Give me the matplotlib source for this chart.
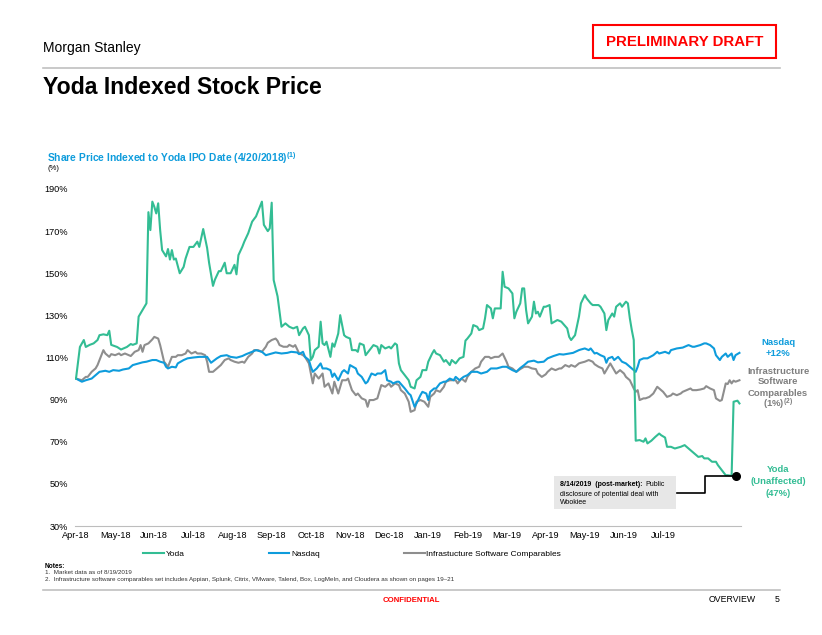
import numpy as np
import matplotlib
matplotlib.use('Agg')
import matplotlib.pyplot as plt
from matplotlib.lines import Line2D
from matplotlib.patches import Rectangle

W, H = 822, 635

plt.rcParams['font.family'] = ['Liberation Sans', 'DejaVu Sans']
plt.rcParams['mathtext.fontset'] = 'custom'
plt.rcParams['mathtext.rm'] = 'Liberation Sans'
plt.rcParams['mathtext.bf'] = 'Liberation Sans:bold'

GREEN = '#33BD94'
BLUE = '#0E9CDC'
GREY = '#8E8E8E'
RED = '#FF0000'
RULE = '#BDBDBD'

# trading sessions since the IPO (4/20/2018), indexed price in %
yoda = [(0, 100), (2, 115), (4, 118.3), (5, 115), (7, 116), (9, 116.7), (11, 118.3), (12, 120.6), (14, 121),
        (16, 120.6), (17, 122.7), (18, 116), (21, 115), (23, 113.8), (26, 115), (28, 116.4), (29, 116),
        (31, 116.7), (32, 129.4), (34, 132.5), (36, 135.7), (37, 179), (38, 170.5), (39, 184), (40, 181.6),
        (41, 178.4), (42, 183.2), (43, 170.5), (44, 161), (46, 158), (47, 161.5), (48, 156.5), (49, 161),
        (50, 156.5), (51, 157), (53, 150), (55, 153), (56, 157), (58, 162.5), (60, 162.5), (62, 165),
        (63, 162.5), (65, 171), (67, 162), (68, 155), (70, 144), (71, 147), (73, 151), (74, 151), (76, 155),
        (77, 150), (79, 150), (81, 154), (82, 149.5), (83, 158.6), (85, 162.6), (86, 165), (88, 169),
        (90, 174.5), (92, 177), (95, 184), (96, 173), (98, 170), (99, 171.3), (100, 183.5), (101, 146.8),
        (103, 139), (105, 124.6), (107, 126.2), (109, 124.6), (111, 123.8), (113, 124.6), (114, 120.6),
        (116, 123.8), (117, 124.6), (119, 120.6), (120, 108.8), (121, 110.3), (122, 113.5), (124, 115.1),
        (125, 127), (126, 116.7), (127, 115.9), (128, 117.5), (130, 110.3), (131, 116.7), (132, 115.1),
        (134, 121.4), (135, 130.1), (137, 120.6), (138, 119.8), (140, 119), (141, 113.5), (143, 113.5),
        (144, 112.7), (145, 116.7), (147, 115.9), (148, 111.1), (150, 113.5), (152, 115.9), (154, 115.1),
        (155, 111.9), (156, 115.9), (158, 114.3), (160, 115.1), (161, 114.3), (163, 116.7), (164, 116),
        (165, 107.2), (166, 104), (168, 101.6), (170, 99.2), (171, 96.1), (173, 95.3), (174, 99.2),
        (176, 100.8), (177, 104), (179, 104), (180, 108), (182, 111.9), (183, 113.5), (184, 111.9),
        (186, 111.1), (188, 108), (189, 108.8), (191, 106.4), (192, 108.8), (194, 107.2), (196, 109.6),
        (198, 110.3), (199, 118), (200, 119), (202, 121.4), (203, 125.4), (205, 124.6), (206, 123),
        (208, 123.8), (209, 128.6), (210, 134.9), (212, 133.3), (213, 128.6), (214, 133.3), (217, 133.3),
        (218, 150.7), (219, 143.6), (221, 142.8), (223, 140.4), (224, 128.6), (225, 131.7), (227, 135.7),
        (228, 142.8), (229, 142.8), (230, 132.5), (231, 126.2), (233, 129.4), (234, 136.5), (235, 130.9),
        (236, 131.7), (237, 129.4), (239, 134.1), (240, 134.1), (242, 134.9), (243, 126.2), (246, 127.8),
        (248, 127), (251, 123.8), (252, 119.8), (253, 118.3), (255, 120.6), (257, 129.4), (258, 135.7),
        (260, 139.6), (261, 138), (263, 135.7), (264, 134.9), (267, 134.9), (268, 134.1), (270, 130.9),
        (271, 123), (272, 127.8), (274, 130.9), (275, 129.4), (276, 134.1), (278, 135.7), (279, 134.1),
        (281, 136.5), (282, 135.7), (283, 128.6), (284, 123), (285, 118.3), (286, 70.5), (288, 70.8),
        (290, 70), (291, 71.6), (292, 69.2), (294, 70.5), (296, 72.3), (298, 73.9), (299, 73.1), (301, 72),
        (302, 67.6), (304, 67.6), (306, 66.8), (309, 67.6), (311, 68.4), (313, 66.8), (315, 65.2),
        (316, 64.4), (318, 62.8), (320, 63.2), (321, 62.1), (323, 62.1), (325, 60.5), (327, 60.5),
        (328, 58.9), (330, 56.5), (332, 54.1), (333, 54.1), (335, 53.8), (336, 89), (338, 89.5), (339, 88.2)]

nasdaq = [(0, 100), (3, 98.5), (5, 99.2), (8, 100), (10, 101.6), (12, 103.2), (15, 103.7), (17, 103.2),
          (19, 104), (22, 103.7), (24, 104.3), (27, 104.8), (29, 106.4), (32, 107.2), (34, 107.7), (36, 108),
          (39, 108.8), (41, 108.8), (43, 108), (45, 107.5), (46, 105.6), (47, 104.8), (49, 105.6),
          (51, 105.3), (52, 107.2), (55, 108.8), (57, 109.6), (60, 110), (63, 110.3), (67, 110.3),
          (69, 107.5), (72, 109.6), (74, 110.7), (77, 111.1), (79, 110.3), (82, 109.9), (85, 110.7),
          (87, 111.6), (90, 112.7), (92, 113.5), (95, 112.7), (97, 111.1), (100, 111.9), (102, 112.4),
          (105, 111.9), (108, 112.2), (110, 112.7), (113, 112.4), (114, 111.6), (116, 112.7), (117, 110.3),
          (119, 108.8), (120, 105.6), (121, 103.2), (123, 104.8), (125, 107.2), (126, 104.8), (128, 104.8),
          (130, 104), (131, 100.8), (132, 102.4), (134, 99.2), (136, 103.2), (137, 104), (139, 102.4),
          (140, 106.4), (143, 104.8), (144, 102.4), (146, 100.8), (148, 97.7), (149, 98.5), (151, 102.4),
          (153, 101.6), (154, 102.4), (156, 102.4), (158, 104), (159, 99.2), (161, 98.5), (162, 97.7),
          (164, 98.5), (165, 98.5), (168, 95.3), (170, 92.9), (171, 92.1), (173, 86.6), (174, 88.2),
          (176, 92.1), (177, 93.7), (179, 92.9), (180, 89.8), (181, 93.7), (183, 95.3), (184, 95.3),
          (186, 97.7), (188, 98.5), (189, 98.5), (191, 100), (193, 99.2), (194, 100.8), (196, 99.2),
          (198, 100.8), (200, 101.6), (202, 103.2), (205, 103.2), (207, 102.4), (210, 103.2), (212, 104.8),
          (215, 104.8), (218, 105.6), (220, 105.6), (223, 104), (225, 103.2), (227, 105), (229, 106.4),
          (231, 108), (234, 108.5), (236, 107.7), (239, 108), (241, 109.6), (244, 110.7), (247, 111.6),
          (249, 111.4), (252, 111.9), (254, 112.2), (257, 113.5), (258, 113.8), (260, 114.3), (262, 113.5),
          (263, 114.3), (265, 111.9), (266, 112.2), (268, 111.1), (270, 110.3), (271, 107.5), (272, 109.6),
          (274, 110.3), (275, 108.8), (277, 110.3), (279, 108), (281, 107.2), (282, 106.4), (284, 104.8),
          (285, 104), (286, 103.2), (287, 105.6), (288, 108.8), (290, 109.6), (292, 109.6), (295, 111.1),
          (297, 112.7), (298, 111.9), (301, 112.7), (303, 111.9), (304, 113.5), (307, 114.3), (310, 114.7),
          (311, 115.1), (313, 115.9), (315, 115.1), (316, 115.1), (319, 115.9), (321, 116.7), (322, 116.7),
          (324, 115.9), (326, 114.3), (327, 111.1), (329, 108.8), (330, 110.3), (332, 111.9), (333, 110.3),
          (335, 111.9), (336, 108.8), (337, 111.1), (339, 112.2)]

comps = [(0, 100), (3, 99.2), (5, 100.8), (6, 100.8), (8, 103.2), (10, 104.8), (11, 106.4), (12, 108.8),
         (14, 113.5), (15, 111.9), (17, 110.3), (18, 111.6), (20, 111.1), (22, 111.9), (23, 111.1),
         (25, 111.9), (27, 111.1), (28, 110.7), (30, 112.7), (32, 113.5), (33, 115.9), (34, 112.7),
         (35, 115.9), (37, 116.7), (39, 118.6), (40, 119.8), (42, 119), (43, 115.9), (44, 111.9), (45, 108),
         (47, 105.6), (48, 108), (49, 110.3), (51, 110.3), (52, 111.1), (54, 111.1), (56, 111.9),
         (57, 113.5), (59, 111.9), (61, 112.7), (62, 111.9), (64, 111.9), (66, 111.1), (67, 108),
         (68, 103.2), (70, 103.2), (71, 104), (73, 105.6), (74, 106.4), (76, 108.8), (78, 109.6),
         (79, 108.8), (81, 108), (83, 107.5), (85, 108), (86, 107.5), (88, 110.3), (90, 111.9), (91, 113.5),
         (93, 113.5), (95, 112.7), (97, 115.1), (98, 117), (100, 118.3), (102, 119), (103, 117.9),
         (104, 115.9), (106, 115.1), (108, 115.1), (109, 116), (111, 115.1), (112, 115.9), (114, 112),
         (116, 111.1), (117, 110.3), (119, 107.2), (120, 102.4), (121, 97.7), (122, 102.4), (124, 100),
         (126, 102.4), (127, 96.1), (129, 97.7), (131, 92.9), (132, 98.5), (134, 92.9), (136, 99.2),
         (138, 99.2), (139, 100), (141, 94.5), (143, 92.1), (144, 92.9), (146, 90.6), (148, 89.8),
         (149, 86.6), (150, 89.8), (152, 89.8), (154, 90.6), (155, 93.7), (156, 96.9), (158, 96.1),
         (160, 97.7), (161, 96.1), (163, 97.7), (165, 96.9), (166, 94.5), (168, 92.9), (170, 89),
         (171, 84.2), (173, 85), (174, 89), (176, 89.8), (178, 89), (180, 86.6), (181, 91.3), (183, 92.9),
         (184, 94.5), (186, 93.7), (188, 96.1), (189, 98.5), (191, 99.2), (194, 99.2), (195, 97.7),
         (197, 100), (199, 98.5), (200, 100.8), (202, 103.2), (204, 104.8), (206, 105.6), (207, 108),
         (209, 110.3), (211, 110.3), (212, 109.6), (214, 110.3), (216, 110.3), (217, 111.1), (218, 111.9),
         (220, 108), (221, 105.6), (223, 104.8), (225, 103.2), (227, 104.5), (229, 105.6), (231, 105.6),
         (233, 104.8), (235, 104.5), (236, 102.4), (238, 100.8), (240, 102), (241, 103.2), (243, 104.8),
         (245, 104), (247, 104.8), (248, 104.8), (250, 106.4), (252, 105.6), (253, 106.4), (255, 105.6),
         (257, 107.2), (258, 107.5), (260, 108), (262, 108.8), (264, 108), (265, 106.8), (267, 105.6),
         (269, 104.8), (270, 102.4), (272, 105.6), (273, 107.2), (275, 104), (276, 102.4), (278, 104),
         (280, 102.4), (281, 100.8), (283, 99.2), (285, 95.3), (286, 93.7), (287, 94.5), (288, 89.8),
         (290, 90.6), (291, 90.6), (293, 91.3), (295, 92.9), (297, 96.1), (298, 95.3), (300, 93.7),
         (302, 91.3), (304, 92), (305, 92.9), (307, 92.1), (309, 92.9), (310, 93.7), (312, 94.5),
         (314, 95.3), (315, 94.5), (317, 94.5), (319, 94.8), (321, 95.3), (322, 96.4), (324, 95.3),
         (326, 94.5), (327, 90.6), (329, 89.4), (330, 89.8), (332, 97.7), (333, 97.4), (334, 99.2),
         (335, 97.7), (336, 99), (337, 98.5), (339, 99.2)]

# unaffected close, 8/14/2019
unaffected = (337.5, 53.7)

months = ['Apr-18', 'May-18', 'Jun-18', 'Jul-18', 'Aug-18', 'Sep-18', 'Oct-18', 'Nov-18',
          'Dec-18', 'Jan-19', 'Feb-19', 'Mar-19', 'Apr-19', 'May-19', 'Jun-19', 'Jul-19']
label_every = 20
y_ticks = [30, 50, 70, 90, 110, 130, 150, 170, 190]


def fx(px):
    return px / W


def fy(py):
    return 1 - py / H


fig = plt.figure(figsize=(W / 100, H / 100), dpi=100)
ax = fig.add_axes([fx(75), fy(526), (741 - 75) / W, (526 - 189) / H])

for series, color in [(comps, GREY), (nasdaq, BLUE), (yoda, GREEN)]:
    d, v = np.array(series).T
    ax.plot(d, v, color=color, lw=1.5, solid_joinstyle='round')

ax.plot(*unaffected, 'o', color='black', ms=5.5, zorder=6, clip_on=False)

ax.set_xlim(-0.51, 339.8)
ax.set_ylim(30, 190)
ax.set_yticks(y_ticks)
ax.set_yticklabels([f'{t}%' for t in y_ticks])
ax.set_xticks(np.arange(len(months)) * label_every)
ax.set_xticklabels(months)
ax.tick_params(axis='both', length=0, labelsize=6.6)
ax.tick_params(axis='y', pad=5)
ax.tick_params(axis='x', pad=3.5)
for s in ['left', 'top', 'right']:
    ax.spines[s].set_visible(False)
ax.spines['bottom'].set_color(RULE)
ax.spines['bottom'].set_linewidth(0.8)

handles = [Line2D([], [], color=c, lw=1.5) for c in [GREEN, BLUE, GREY]]
fig.legend(handles, ['Yoda', 'Nasdaq', 'Infrastucture Software Comparables'], ncol=3,
           loc='center left', bbox_to_anchor=(fx(143), fy(554)), bbox_transform=fig.transFigure,
           frameon=False, fontsize=6, handlelength=2.5, handletextpad=0.2, columnspacing=10.1,
           borderpad=0, borderaxespad=0)

# header
fig.text(fx(43), fy(48), 'Morgan Stanley', fontsize=10, va='center')
fig.add_artist(Rectangle((fx(593), fy(58)), (776 - 593) / W, (58 - 25) / H, transform=fig.transFigure,
                         facecolor='none', edgecolor=RED, lw=1.5))
fig.text(fx(684.5), fy(42), 'PRELIMINARY DRAFT', color=RED, fontsize=10.8, weight='bold',
         ha='center', va='center')
fig.add_artist(Line2D([fx(43), fx(780)], [fy(68), fy(68)], color='#C0C0C0', lw=1.2))
fig.text(fx(43), fy(88), 'Yoda Indexed Stock Price', fontsize=16.6, weight='bold', va='center')
fig.text(fx(47), fy(158), r'Share Price Indexed to Yoda IPO Date (4/20/2018)$^{\mathbf{(1)}}$',
         color=BLUE, fontsize=7.4, weight='bold', va='center')
fig.text(fx(47), fy(169), '(%)', fontsize=5.5, va='center')

# end labels
for txt, py in [('Nasdaq', 343), ('+12%', 353)]:
    fig.text(fx(778), fy(py), txt, color=BLUE, fontsize=6.8, weight='bold', ha='center', va='center')
for txt, py in [('Infrastructure', 371), ('Software', 382), ('Comparables', 393),
                (r'(1%)$^{\mathbf{(2)}}$', 404)]:
    fig.text(fx(778), fy(py), txt, color='#7F7F7F', fontsize=6.8, weight='bold', ha='center', va='center')
for txt, py in [('Yoda', 470), ('(Unaffected)', 482), ('(47%)', 493)]:
    fig.text(fx(778), fy(py), txt, color=GREEN, fontsize=6.8, weight='bold', ha='center', va='center')

# annotation box and connector
fig.add_artist(Rectangle((fx(554), fy(509)), (676 - 554) / W, (509 - 476) / H, transform=fig.transFigure,
                         facecolor='#E7E7E7', edgecolor='none'))
t1 = fig.text(fx(560), fy(485), '8/14/2019  (post-market):', fontsize=5, weight='bold', va='center')
fig.canvas.draw()
bb = t1.get_window_extent(renderer=fig.canvas.get_renderer())
fig.text((bb.x1 + 3) / W, fy(485), 'Public', fontsize=5, va='center')
fig.text(fx(560), fy(494), 'disclosure of potential deal with', fontsize=5, va='center')
fig.text(fx(560), fy(503), 'Wookiee', fontsize=5, va='center')

dot_x, dot_y = ax.transData.transform(unaffected)
fig.add_artist(Line2D([fx(677), fx(705), fx(705), dot_x / W], [fy(493), fy(493), dot_y / H, dot_y / H],
                      color='black', lw=1.2))

# notes and footer
fig.text(fx(45), fy(566), 'Notes:', fontsize=4.7, weight='bold', va='center')
fig.text(fx(45), fy(573), '1.  Market data as of 8/19/2019', fontsize=4.5, va='center', color='#333333')
fig.text(fx(45), fy(580), '2.  Infrastructure software comparables set includes Appian, Splunk, Citrix, VMware, '
         'Talend, Box, LogMeIn, and Cloudera as shown on pages 19\u201321', fontsize=4.5, va='center',
         color='#333333')
fig.add_artist(Line2D([fx(43), fx(780)], [fy(590), fy(590)], color='#C0C0C0', lw=1.2))
fig.text(fx(411), fy(600), 'CONFIDENTIAL', color=RED, fontsize=5.6, weight='bold', ha='center', va='center')
fig.text(fx(732), fy(600), 'OVERVIEW', fontsize=6.3, ha='center', va='center')
fig.text(fx(777), fy(600), '5', fontsize=6.3, ha='center', va='center')

fig.savefig('out.png', dpi=100)
